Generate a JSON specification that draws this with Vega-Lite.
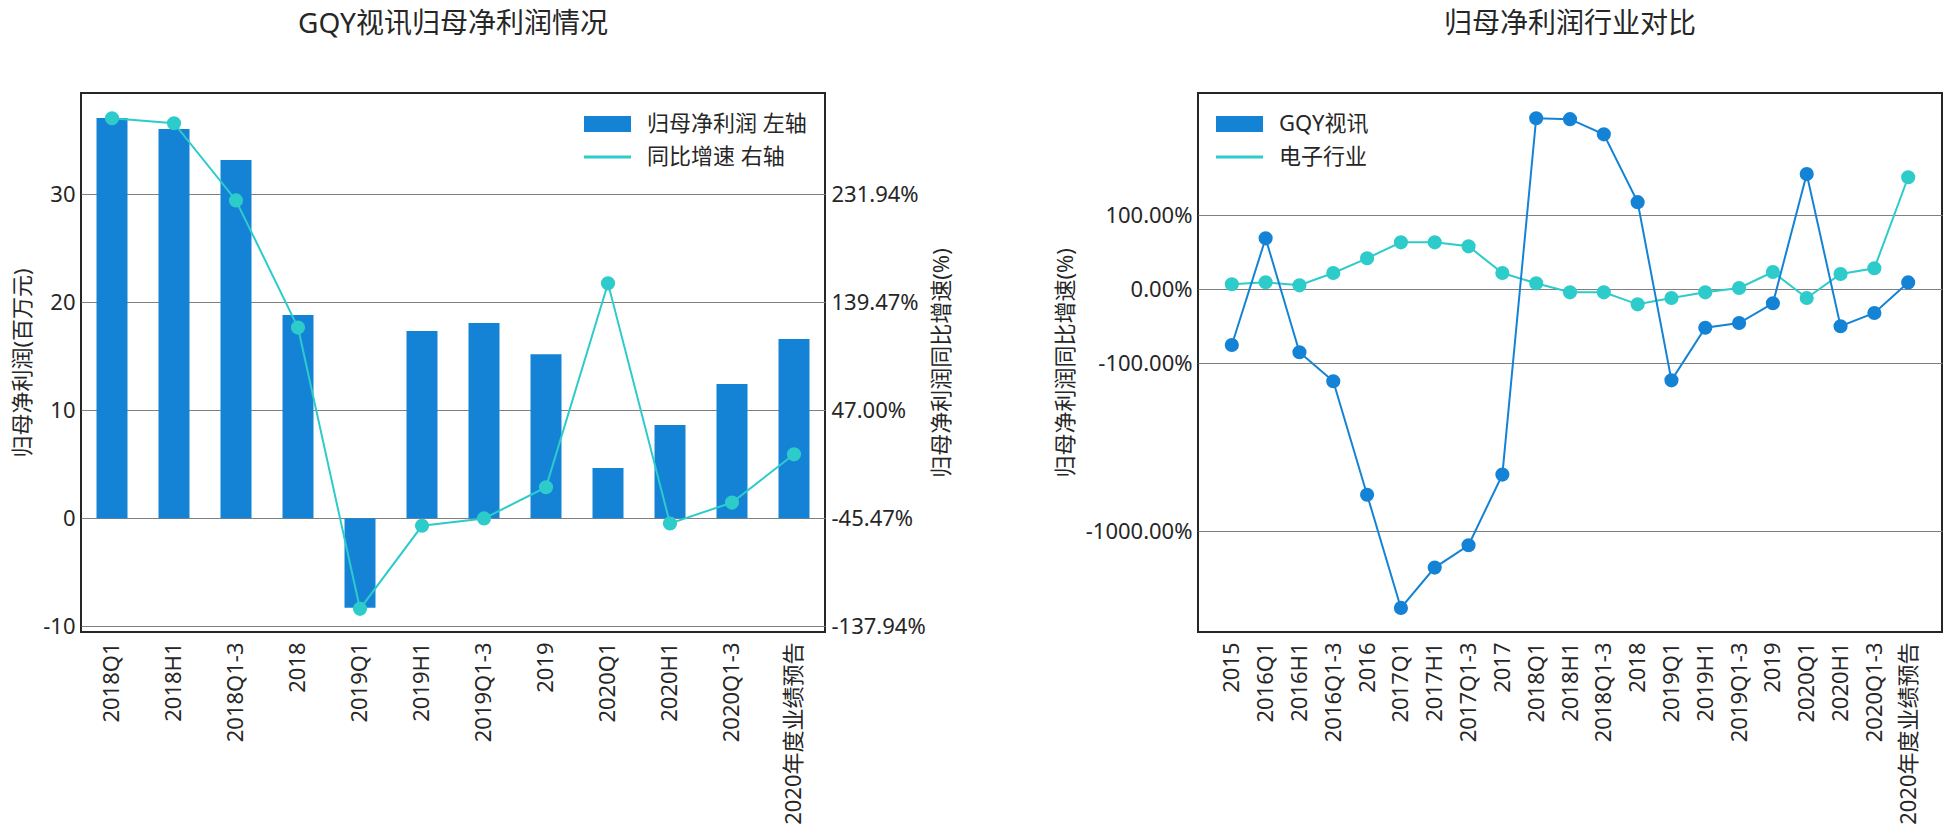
{
  "$schema": "https://vega.github.io/schema/vega-lite/v6.json",
  "background": "white",
  "padding": {"left": 10, "top": 10, "right": 5, "bottom": 5},
  "config": {
    "font": "Noto Sans, Noto Sans CJK SC",
    "view": {"stroke": "#262626", "strokeWidth": 2},
    "axis": {
      "labelFont": "Noto Sans, Noto Sans CJK SC",
      "titleFont": "Noto Sans, Noto Sans CJK SC",
      "labelFontSize": 22,
      "titleFontSize": 22,
      "labelColor": "#262626",
      "titleColor": "#262626",
      "titleFontWeight": "normal",
      "labelLimit": 400,
      "domain": false,
      "ticks": false,
      "gridColor": "#808080",
      "gridWidth": 1.2
    },
    "title": {"font": "Noto Sans, Noto Sans CJK SC", "fontSize": 28, "fontWeight": "normal", "color": "#262626", "offset": 54, "frame": "group", "anchor": "middle"},
    "legend": {"labelFont": "Noto Sans, Noto Sans CJK SC", "labelFontSize": 22, "labelColor": "#262626", "labelLimit": 400}
  },
  "datasets": {
    "profit": [
      {"period": "2018Q1", "profit": 37.06, "growth": 297.0},
      {"period": "2018H1", "profit": 36.05, "growth": 292.8},
      {"period": "2018Q1-3", "profit": 33.18, "growth": 226.7},
      {"period": "2018", "profit": 18.82, "growth": 117.8},
      {"period": "2019Q1", "profit": -8.28, "growth": -123.0},
      {"period": "2019H1", "profit": 17.34, "growth": -51.9},
      {"period": "2019Q1-3", "profit": 18.08, "growth": -45.6},
      {"period": "2019", "profit": 15.2, "growth": -18.9},
      {"period": "2020Q1", "profit": 4.66, "growth": 155.7},
      {"period": "2020H1", "profit": 8.64, "growth": -49.9},
      {"period": "2020Q1-3", "profit": 12.44, "growth": -32.0},
      {"period": "2020年度业绩预告", "profit": 16.6, "growth": 9.3}
    ],
    "compare": [
      {"period": "2015", "series": "GQY视讯", "growth": -75.3},
      {"period": "2016Q1", "series": "GQY视讯", "growth": 68.9},
      {"period": "2016H1", "series": "GQY视讯", "growth": -85.1},
      {"period": "2016Q1-3", "series": "GQY视讯", "growth": -124.3},
      {"period": "2016", "series": "GQY视讯", "growth": -540},
      {"period": "2017Q1", "series": "GQY视讯", "growth": -3740},
      {"period": "2017H1", "series": "GQY视讯", "growth": -1874},
      {"period": "2017Q1-3", "series": "GQY视讯", "growth": -1294},
      {"period": "2017", "series": "GQY视讯", "growth": -381},
      {"period": "2018Q1", "series": "GQY视讯", "growth": 297.0},
      {"period": "2018H1", "series": "GQY视讯", "growth": 292.8},
      {"period": "2018Q1-3", "series": "GQY视讯", "growth": 226.7},
      {"period": "2018", "series": "GQY视讯", "growth": 117.8},
      {"period": "2019Q1", "series": "GQY视讯", "growth": -123.0},
      {"period": "2019H1", "series": "GQY视讯", "growth": -51.9},
      {"period": "2019Q1-3", "series": "GQY视讯", "growth": -45.6},
      {"period": "2019", "series": "GQY视讯", "growth": -18.9},
      {"period": "2020Q1", "series": "GQY视讯", "growth": 155.7},
      {"period": "2020H1", "series": "GQY视讯", "growth": -49.9},
      {"period": "2020Q1-3", "series": "GQY视讯", "growth": -32.0},
      {"period": "2020年度业绩预告", "series": "GQY视讯", "growth": 9.3},
      {"period": "2015", "series": "电子行业", "growth": 6.8},
      {"period": "2016Q1", "series": "电子行业", "growth": 9.5},
      {"period": "2016H1", "series": "电子行业", "growth": 5.4},
      {"period": "2016Q1-3", "series": "电子行业", "growth": 22.0},
      {"period": "2016", "series": "电子行业", "growth": 41.9},
      {"period": "2017Q1", "series": "电子行业", "growth": 63.5},
      {"period": "2017H1", "series": "电子行业", "growth": 63.5},
      {"period": "2017Q1-3", "series": "电子行业", "growth": 58.1},
      {"period": "2017", "series": "电子行业", "growth": 22.0},
      {"period": "2018Q1", "series": "电子行业", "growth": 8.1},
      {"period": "2018H1", "series": "电子行业", "growth": -4.1},
      {"period": "2018Q1-3", "series": "电子行业", "growth": -4.1},
      {"period": "2018", "series": "电子行业", "growth": -20.3},
      {"period": "2019Q1", "series": "电子行业", "growth": -11.8},
      {"period": "2019H1", "series": "电子行业", "growth": -4.1},
      {"period": "2019Q1-3", "series": "电子行业", "growth": 1.8},
      {"period": "2019", "series": "电子行业", "growth": 23.4},
      {"period": "2020Q1", "series": "电子行业", "growth": -11.8},
      {"period": "2020H1", "series": "电子行业", "growth": 20.7},
      {"period": "2020Q1-3", "series": "电子行业", "growth": 28.4},
      {"period": "2020年度业绩预告", "series": "电子行业", "growth": 151.4}
    ]
  },
  "spacing": 99,
  "resolve": {"scale": {"color": "independent"}, "legend": {"color": "independent"}},
  "hconcat": [
    {
      "title": "GQY视讯归母净利润情况",
      "width": 744,
      "height": 539,
      "data": {"name": "profit"},
      "encoding": {
        "x": {
          "field": "period", "type": "nominal", "sort": null,
          "scale": {"paddingInner": 0.5, "paddingOuter": 0.25},
          "axis": {"title": null, "labelAngle": -90, "labelPadding": 10, "grid": false}
        }
      },
      "layer": [
        {
          "mark": {"type": "bar", "color": "#1483d5"},
          "encoding": {
            "y": {
              "field": "profit", "type": "quantitative",
              "scale": {"domain": [-10.53, 39.38], "nice": false, "zero": false},
              "axis": {"title": "归母净利润(百万元)", "values": [-10, 0, 10, 20, 30], "labelPadding": 6, "titlePadding": 8, "labelExpr": "replace(datum.label, '−', '-')"}
            },
            "color": {
              "datum": "归母净利润 左轴", "type": "nominal",
              "scale": {"domain": ["归母净利润 左轴", "同比增速 右轴"], "range": ["#1483d5", "#2ecbcb"]},
              "legend": {
                "title": null, "orient": "top-right", "offset": 18,
                "symbolType": "M-1,-0.34H1V0.34H-1Z",
                "symbolSize": 2209, "symbolStrokeWidth": 0, "clipHeight": 26, "rowPadding": 7, "labelOffset": 16,
                "encode": {
                  "symbols": {
                    "update": {
                      "shape": {"signal": "datum.value === '归母净利润 左轴' ? 'M-1,-0.34H1V0.34H-1Z' : 'M-1,-0.06H1V0.06H-1Z'"},
                      "fill": {"signal": "datum.value === '归母净利润 左轴' ? '#1483d5' : '#2ecbcb'"},
                      "stroke": {"value": "transparent"},
                      "opacity": {"value": 1}
                    }
                  }
                }
              }
            }
          }
        },
        {
          "mark": {"type": "line", "strokeWidth": 2, "point": {"filled": true, "size": 200, "opacity": 1}},
          "encoding": {
            "y": {
              "field": "growth", "type": "quantitative",
              "scale": {"domain": [-142.84, 318.7], "nice": false, "zero": false},
              "axis": {"orient": "right", "title": "归母净利润同比增速(%)", "titleAngle": 270, "titleBaseline": "top", "values": [-137.94, -45.47, 47.0, 139.47, 231.94], "grid": false, "labelPadding": 6, "titlePadding": 6, "labelExpr": "replace(format(datum.value, '.2f'), '−', '-') + '%'"}
            },
            "color": {"datum": "同比增速 右轴", "type": "nominal"}
          }
        }
      ],
      "resolve": {"scale": {"y": "independent"}}
    },
    {
      "title": "归母净利润行业对比",
      "width": 744,
      "height": 539,
      "data": {"name": "compare"},
      "encoding": {
        "x": {
          "field": "period", "type": "ordinal",
          "scale": {"type": "point", "padding": 1, "domain": ["2015", "2016Q1", "2016H1", "2016Q1-3", "2016", "2017Q1", "2017H1", "2017Q1-3", "2017", "2018Q1", "2018H1", "2018Q1-3", "2018", "2019Q1", "2019H1", "2019Q1-3", "2019", "2020Q1", "2020H1", "2020Q1-3", "2020年度业绩预告"]},
          "axis": {"title": null, "labelAngle": -90, "labelPadding": 10, "grid": false}
        },
        "y": {
          "field": "growth", "type": "quantitative",
          "scale": {
            "domain": [-5577, -4000, -3000, -2000, -1500, -1000, -700, -500, -400, -300, -250, -200, 200, 250, 300, 400, 457],
            "range": [538.6, 519.3, 502.5, 478.8, 462.0, 438.3, 417.5, 397.8, 384.8, 368.0, 357.3, 344.3, 48.3, 35.3, 24.6, 7.8, 0],
            "nice": false, "zero": false
          },
          "axis": {"title": "归母净利润同比增速(%)", "values": [-1000, -100, 0, 100], "labelPadding": 6, "titlePadding": 8, "labelExpr": "replace(format(datum.value, '.2f'), '−', '-') + '%'"}
        }
      },
      "layer": [
        {
          "transform": [{"filter": "datum.series === '电子行业'"}],
          "mark": {"type": "line", "strokeWidth": 2, "point": {"filled": true, "size": 200, "opacity": 1}},
          "encoding": {
            "color": {
              "datum": "电子行业", "type": "nominal",
              "scale": {"domain": ["GQY视讯", "电子行业"], "range": ["#1483d5", "#2ecbcb"]},
              "legend": {
                "title": null, "orient": "top-left", "offset": 18,
                "symbolType": "M-1,-0.34H1V0.34H-1Z",
                "symbolSize": 2209, "symbolStrokeWidth": 0, "clipHeight": 26, "rowPadding": 7, "labelOffset": 16,
                "encode": {
                  "symbols": {
                    "update": {
                      "shape": {"signal": "datum.value === 'GQY视讯' ? 'M-1,-0.34H1V0.34H-1Z' : 'M-1,-0.06H1V0.06H-1Z'"},
                      "fill": {"signal": "datum.value === 'GQY视讯' ? '#1483d5' : '#2ecbcb'"},
                      "stroke": {"value": "transparent"},
                      "opacity": {"value": 1}
                    }
                  }
                }
              }
            }
          }
        },
        {
          "transform": [{"filter": "datum.series === 'GQY视讯'"}],
          "mark": {"type": "line", "strokeWidth": 2, "point": {"filled": true, "size": 200, "opacity": 1}},
          "encoding": {
            "color": {"datum": "GQY视讯", "type": "nominal"}
          }
        }
      ]
    }
  ]
}
